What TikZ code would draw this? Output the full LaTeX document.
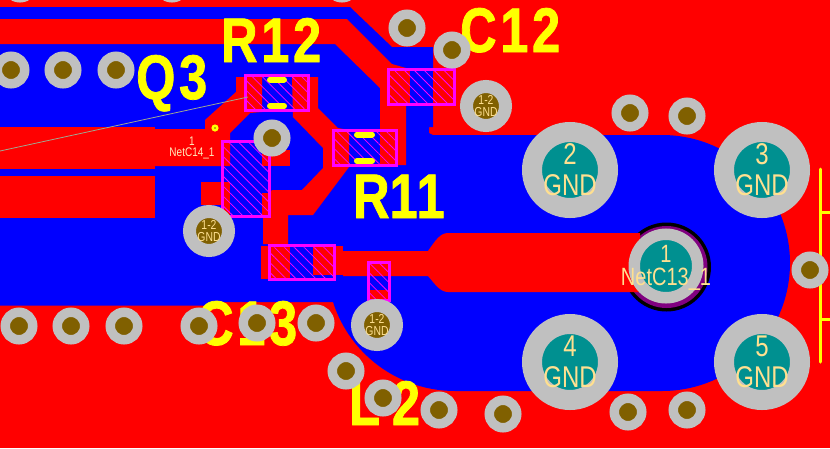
\documentclass[tikz,border=0pt]{standalone}
\usepackage{fontspec}
\usetikzlibrary{patterns.meta}
\newfontfamily\silkfont[FakeStretch=0.8,FakeBold=1.2,LetterSpace=6]{Liberation Sans Bold}
\newfontfamily\padfont[FakeStretch=0.8]{Liberation Sans}
\definecolor{padred}{HTML}{FF0000}
\definecolor{planeblue}{HTML}{0000FF}
\definecolor{viagrey}{HTML}{C0C0C0}
\definecolor{viahole}{HTML}{806000}
\definecolor{padteal}{HTML}{009090}
\definecolor{padtext}{HTML}{FFE090}
\definecolor{silk}{HTML}{FFFF00}
\definecolor{boxpink}{HTML}{FF00FF}
\definecolor{ringpurple}{HTML}{800080}
\definecolor{wirecol}{HTML}{A0A890}
\tikzset{
	via/.style={circle,draw=viagrey,fill=viahole,line width=9.5pt,minimum size=27.5pt,inner sep=0pt},
	gndvia/.style={circle,draw=viagrey,fill=viahole,line width=13pt,minimum size=39pt,inner sep=0pt,text=padtext,align=center,font=\padfont\fontsize{13}{12}\selectfont},
	bigpad/.style={circle,draw=viagrey,fill=padteal,line width=20pt,minimum size=76pt,inner sep=0pt,text=padtext,align=center,font=\padfont\fontsize{30}{31}\selectfont},
	padlabel/.style={text=padtext,align=center,inner sep=0pt,font=\padfont\fontsize{25}{23}\selectfont},
	padbox/.style={draw=boxpink,line width=2.6pt,inner sep=0pt,pattern={Lines[angle=-45,distance=7pt,line width=.8pt]},pattern color=boxpink},
	silktext/.style={text=silk,inner sep=0pt,anchor=base west,font=\silkfont\fontsize{63}{63}\selectfont},
	silkline/.style={draw=silk,line width=6pt,line cap=round},
	copper/.style={fill=padred},
}
\begin{document}
\begin{tikzpicture}[x=1pt,y=-1pt]
	\useasboundingbox (0,0) rectangle (830,448);
	\clip (0,0) rectangle (830,448);
	\fill[padred] (0,0) rectangle (830,448);
	% plane
	\fill[planeblue] (0,7) -- (350,7) -- (392,47) -- (433,47) -- (433,127) -- (429,127) -- (429,133) -- (433,135) -- (662,135)
		.. controls (732.7,135) and (790,192.3) .. (790,263)
		.. controls (790,333.7) and (732.7,391) .. (662,391) -- (455,391)
		.. controls (399.2,391) and (349.9,354.9) .. (333,302) -- (220,302) -- (220,305.5) -- (0,305.5) -- cycle;
	% traces
	\fill[copper] (0,19) -- (347,19) -- (392,64) -- (406,68) -- (406,165) -- (380,165) -- (380,88) -- (335,44) -- (0,44) -- cycle;
	\fill[copper] (0,127) rectangle (155,169);
	\fill[copper] (0,176) rectangle (155,218);
	\fill[copper] (155,129) -- (205,129) -- (205,120) -- (236,92) -- (236,77) -- (262,77) -- (262,112) -- (250,113) -- (230,133) -- (230,166) -- (155,166) -- cycle;
	\fill[copper] (292,77) -- (318,77) -- (318,108) -- (338,128) -- (349,130) -- (349,167) -- (313,215) -- (288,215) -- (288,244) -- (263,244) -- (263,200) -- (272,190) -- (302,190) -- (323,168) -- (323,148) -- (293,117) -- cycle;
	\fill[copper] (262,150) rectangle (290,166);
	\fill[copper] (201,182) rectangle (230,205);
	\fill[copper] (222,182) rectangle (230,217);
	\fill[copper] (262,193) rectangle (270,217);
	\fill[copper] (388,68) rectangle (410,106);
	\fill[copper] (433,68) rectangle (456,106);
	\fill[copper] (332,130) rectangle (349,167);
	\fill[copper] (381,130) rectangle (398,167);
	\fill[copper] (261,246) rectangle (290,279);
	\fill[copper] (313,246) rectangle (343,275);
	\fill[copper] (367,290) rectangle (391,302);
	\fill[black] (666.5,267) circle (44.5);
	\fill[ringpurple] (666.5,267) circle (41);
	\fill[copper] (343,251) -- (428,251) .. controls (435,241) and (440,233) .. (448,233) -- (640,233) -- (640,292) -- (448,292) .. controls (440,292) and (435,284) .. (428,276) -- (343,276) -- cycle;
	% silk text
	\node[silktext] (r_12) at (221,62) {R12};
	\node[silktext] (q_3) at (136,99) {Q3};
	\node[silktext] (c_12) at (460,52) {C12};
	\node[silktext] (r_11) at (353,218) {R\kern0pt1\kern-1pt1};
	\node[silktext] (c_13) at (197,345) {C13};
	\node[silktext] (l_2) at (349,425) {L\kern12pt2};
	\draw[silkline,line width=3pt] (820,169) -- (820,362);
	\draw[silkline,line width=3pt,line cap=butt] (820,212) -- (830,212);
	\draw[silkline,line width=3pt,line cap=butt] (820,319) -- (830,319);
	% part outlines
	\node[padbox,minimum width=63.5pt,minimum height=35.5pt] (b_r12) at (277,93) {};
	\node[padbox,minimum width=63.5pt,minimum height=35.5pt] (b_r11) at (365,148) {};
	\node[padbox,minimum width=65.5pt,minimum height=35.5pt] (b_c12) at (421.5,87) {};
	\node[padbox,minimum width=47.5pt,minimum height=75.5pt] (b_q3) at (246,179) {};
	\node[padbox,minimum width=65.5pt,minimum height=34.5pt] (b_c13) at (302,262.5) {};
	\node[padbox,minimum width=21.5pt,minimum height=38.5pt] (b_l2) at (379,281.5) {};
	\draw[silkline] (270,79.5) -- (284,79.5);
	\draw[silkline] (270,106) -- (284,106);
	\draw[silkline] (357,134.5) -- (372,134.5);
	\draw[silkline] (357,161) -- (372,161);
	\coordinate (w_0) at (0,151);
	\draw[wirecol,line width=.8pt] (w_0) -- (248,97);
	\node[circle,draw=silk,fill=viahole,line width=2.5pt,minimum size=4.5pt,inner sep=0pt] (d_1) at (215,128) {};
	% vias
	\node[via] (v_1) at (20,-16) {};
	\node[via] (v_2) at (172,-16) {};
	\node[via] (v_3) at (342,-16) {};
	\node[via] (v_4) at (11,70) {};
	\node[via] (v_5) at (63,70) {};
	\node[via] (v_6) at (116,70) {};
	\node[via] (v_7) at (272,138) {};
	\node[via] (v_8) at (407,28) {};
	\node[via] (v_9) at (452,50) {};
	\node[via] (v_10) at (630,113) {};
	\node[via] (v_11) at (687,116) {};
	\node[via] (v_12) at (810,270) {};
	\node[via] (v_13) at (19,326) {};
	\node[via] (v_14) at (71,326) {};
	\node[via] (v_15) at (124,326) {};
	\node[via] (v_16) at (199,326) {};
	\node[via] (v_17) at (257,323) {};
	\node[via] (v_18) at (316,323) {};
	\node[via] (v_19) at (346,371) {};
	\node[via] (v_20) at (383,398) {};
	\node[via] (v_21) at (439,410) {};
	\node[via] (v_22) at (503,414) {};
	\node[via] (v_23) at (628,412) {};
	\node[via] (v_24) at (687,410) {};
	\node[gndvia] (g_1) at (486,106) {1-2\\GND};
	\node[gndvia] (g_2) at (377,325) {1-2\\GND};
	\node[gndvia] (g_3) at (209,231) {1-2\\GND};
	% pads
	\node[bigpad] (p_2) at (570,170) {2\\GND};
	\node[bigpad] (p_3) at (762,170) {3\\GND};
	\node[bigpad] (p_4) at (570,362) {4\\GND};
	\node[bigpad] (p_5) at (762,362) {5\\GND};
	\node[bigpad,line width=11.5pt,minimum size=63.5pt] (p_1) at (666,266) {};
	\node[padlabel] (t_1) at (666,268) {1\\NetC13\_1};
	\node[padlabel,text=padtext!60!white,font=\padfont\fontsize{12.5}{11.5}\selectfont] (n_14) at (192,148) {1\\NetC14\_1};
\end{tikzpicture}
\end{document}
